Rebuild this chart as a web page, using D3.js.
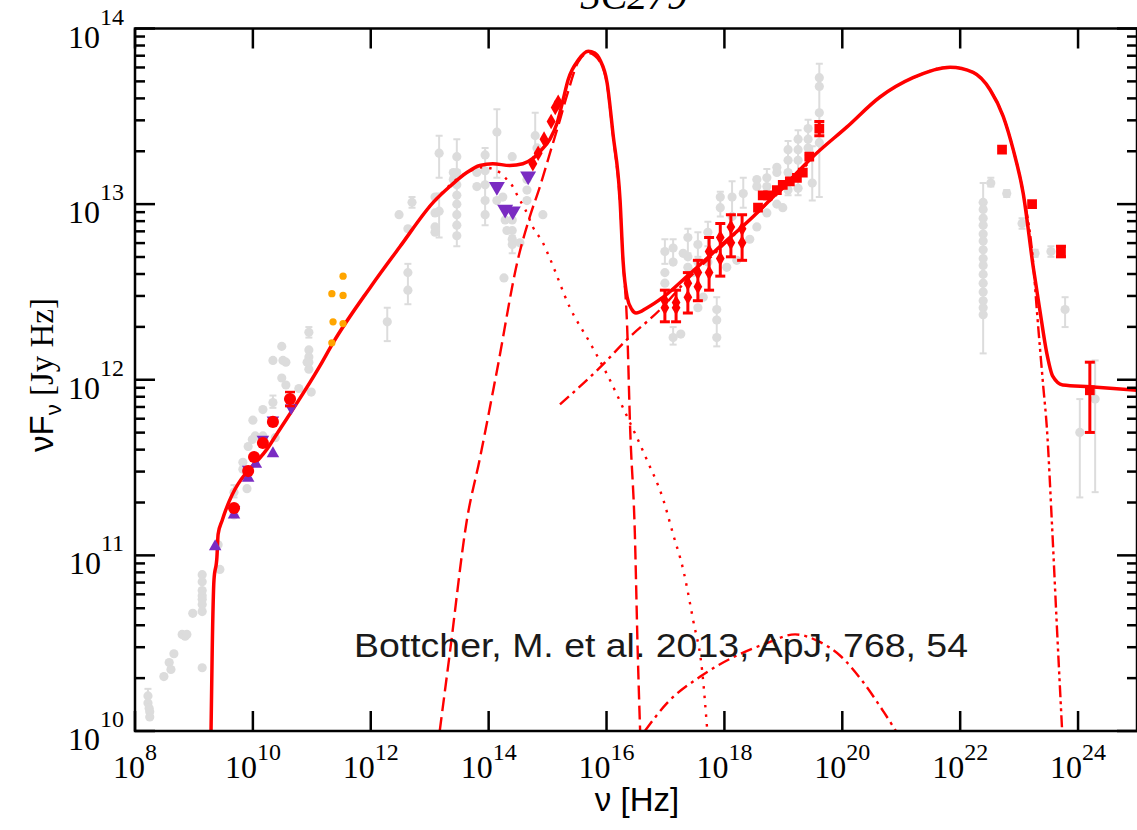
<!DOCTYPE html>
<html>
<head>
<meta charset="utf-8">
<script src="https://cdn.jsdelivr.net/npm/d3@7"></script>
<style>
  body { margin: 0; background: #fff; }
  svg { display: block; }
</style>
</head>
<body>
<script>
// every value is log10(nu / Hz) and log10(nuFnu / Jy Hz)
const xTickExps = [8, 10, 12, 14, 16, 18, 20, 22, 24];
const yTickExps = [10, 11, 12, 13, 14];

// model components
const modelTotal = [[9.29,10.00],[9.31,10.46],[9.34,10.86],[9.39,10.99],[9.41,11.12],[9.48,11.20],
  [10.29,11.63],[11.14,12.08],[11.36,12.21],[12.00,12.53],[12.50,12.76],[13.06,13.01],[13.34,13.10],
  [13.63,13.18],[13.85,13.22],[14.07,13.23],[14.36,13.22],[14.58,13.23],[14.75,13.26],[14.87,13.30],
  [15.04,13.37],[15.16,13.46],[15.26,13.59],[15.35,13.71],[15.52,13.82],[15.69,13.87],[15.80,13.86],
  [15.89,13.82],[16.01,13.69],[16.11,13.40],[16.23,13.02],[16.28,12.68],[16.35,12.47],[16.43,12.40],
  [16.50,12.38],[16.69,12.41],[16.96,12.47],[17.37,12.59],[17.93,12.76],[18.49,12.93],[19.06,13.12],
  [19.50,13.27],[20.08,13.44],[20.64,13.61],[21.20,13.72],[21.83,13.78],[22.22,13.75],[22.51,13.65],
  [22.73,13.50],[22.90,13.31],[23.07,13.06],[23.24,12.64],[23.35,12.40],[23.47,12.15],[23.57,12.02],
  [23.74,11.97],[24.20,11.96],[25.00,11.94]];
const modelSync = [[12.50,12.76],[13.06,13.01],[13.63,13.18],[13.90,13.21],[14.19,13.18],[14.31,13.14],
  [14.41,13.10],[14.50,13.04],[14.62,12.97],[14.75,12.87],[14.92,12.78],[15.04,12.69],[15.38,12.41],
  [15.72,12.21],[16.01,12.03],[16.35,11.79],[16.69,11.54],[16.96,11.32],[17.13,11.12],[17.30,10.92],
  [17.47,10.63],[17.62,10.35],[17.71,10.00]];
const modelDisk = [[13.17,10.00],[13.34,10.44],[13.63,11.20],[13.85,11.55],[14.14,12.05],[14.50,12.69],
  [14.70,12.93],[14.87,13.10],[15.04,13.29],[15.21,13.48],[15.33,13.62],[15.52,13.81],[15.69,13.86],
  [15.89,13.81],[16.01,13.68],[16.11,13.39],[16.23,13.00],[16.28,12.68],[16.35,12.30],[16.40,11.73],
  [16.48,11.13],[16.53,10.44],[16.57,10.00]];
const modelSSC = [[15.21,11.86],[15.89,12.07],[16.35,12.23],[16.91,12.40],[17.37,12.57],[17.93,12.75],
  [18.49,12.93],[19.06,13.11],[19.50,13.26]];
const modelHump = [[16.65,10.00],[17.03,10.16],[17.59,10.31],[18.15,10.42],[18.72,10.50],[19.20,10.55],
  [19.60,10.51],[19.96,10.43],[20.35,10.28],[20.70,10.11],[20.91,10.00]];
const modelEC = [[21.20,13.72],[21.83,13.78],[22.22,13.75],[22.51,13.65],[22.73,13.50],[22.90,13.31],
  [23.07,13.06],[23.24,12.66],[23.30,12.40],[23.41,11.96],[23.47,11.73],[23.56,11.16],[23.64,10.60],
  [23.73,10.00]];

// archival data (grey), [nu, flux, errLo, errHi]
const archival = [
  [8.22,10.20,10.16,10.24],[8.22,10.16],[8.24,10.13],[8.25,10.11],[8.25,10.08],
  [8.49,10.31],[8.58,10.39],[8.61,10.35],[8.66,10.44],[8.80,10.55],[8.85,10.54],[8.88,10.55],[8.98,10.67],
  [9.14,10.89],[9.14,10.85],[9.14,10.80],[9.14,10.77],[9.14,10.75],[9.14,10.72],[9.14,10.68],[9.14,10.36],
  [9.41,11.06],[9.44,10.92],[9.68,11.36,11.33,11.40],[9.68,11.23],
  [9.83,11.49],[9.90,11.38],[9.83,11.53],[9.92,11.62],[9.99,11.66],[10.04,11.68],[10.00,11.77],
  [10.17,11.83],[10.17,11.68],[10.34,11.87,11.84,11.91],[10.38,11.67],[10.34,12.11],[10.49,12.19],
  [10.51,12.11],[10.56,12.10],[10.49,12.01],[10.56,11.97],
  [10.95,12.27,12.24,12.30],[10.95,12.17],[10.95,12.13],[10.95,12.10],[10.95,12.06],[10.78,11.95],
  [10.99,11.93],[10.92,12.10],
  [12.28,12.33,12.22,12.41],[12.48,12.94],[12.63,12.86],[12.63,12.61],[12.63,12.51,12.43,12.66],
  [12.70,13.01,12.98,13.04],
  [13.09,13.04],[13.09,12.95],[13.09,12.87],[13.09,12.84],
  [13.16,13.29,13.15,13.39],[13.16,12.96,12.81,13.06],[13.40,13.18],[13.40,13.14],
  [13.46,13.27,12.76,13.37],[13.46,13.18],[13.46,13.11],[13.46,13.05],[13.46,13.00],[13.46,12.94],
  [13.46,12.88],[13.46,12.82],[13.80,13.18],[13.80,13.10],
  [13.94,13.28,12.88,13.32],[13.94,13.19],[13.94,13.11],[13.94,13.02],[13.94,12.94],
  [14.14,13.41,13.15,13.54],[14.14,13.02],[14.24,13.04],[14.28,12.91],[14.31,12.85],[14.40,13.27],
  [14.40,12.91],[14.40,12.85],[14.40,12.80],[14.40,12.77,12.72,12.82],[14.53,12.78],[14.65,13.14],
  [14.65,13.08],[14.65,13.02],[14.79,13.39,13.27,13.52],[14.82,13.32],[14.92,12.94],[14.26,12.58],
  [16.99,12.73,12.66,12.80],[16.99,12.61],[16.99,12.55],[17.13,12.75,12.68,12.80],[17.13,12.67],
  [17.13,12.24,12.20,12.30],[17.26,12.26],
  [17.30,12.72],[17.38,12.81,12.72,12.86],[17.38,12.70],[17.38,12.64],[17.47,12.61],
  [17.55,12.77,12.70,12.84],[17.55,12.67],[17.55,12.41],[17.64,12.47],[17.72,12.84,12.76,12.90],[17.72,12.67],
  [17.87,12.40],[17.87,12.34],[17.87,12.24,12.19,12.47],
  [17.93,13.04,12.93,13.07],[17.93,12.98],[18.04,12.64],[18.13,13.04,12.93,13.13],[18.13,12.93],
  [18.21,12.68],[18.32,13.06,12.98,13.15],[18.43,12.80],[18.55,13.14],[18.55,13.10],[18.55,12.87],
  [18.72,13.15,13.05,13.20],[18.72,13.10],[18.72,12.95],[18.89,13.21],[18.89,13.18],[18.89,13.00],[18.99,12.98],
  [19.08,13.31,13.05,13.36],[19.08,13.25],[19.08,13.18],[19.08,13.08],
  [19.25,13.37,13.05,13.42],[19.25,13.31],[19.25,13.25],[19.25,13.09],
  [19.42,13.43,13.28,13.48],[19.42,13.37],[19.42,13.32],[19.49,13.12,13.02,13.33],
  [19.61,13.72,13.04,13.80],[19.61,13.67],[19.61,13.52],[19.61,13.35],
  [22.39,13.01,12.15,13.12],[22.39,12.97],[22.39,12.92],[22.39,12.88],[22.39,12.83],[22.39,12.79],
  [22.39,12.74],[22.39,12.69],[22.39,12.65],[22.39,12.60],[22.39,12.55],[22.39,12.50],[22.39,12.45],
  [22.39,12.41],[22.39,12.37],
  [22.52,13.12,13.10,13.15],[22.79,13.06,13.04,13.08],[23.05,12.89,12.86,12.92],[23.27,12.72,12.70,12.74],
  [23.54,12.73,12.70,12.76],[23.78,12.40,12.30,12.47],[24.03,11.70,11.33,11.89],[24.29,11.89,11.36,12.11]
];

// campaign data
const radioRed = [[9.68,11.27],[9.92,11.48],[10.02,11.56],[10.17,11.64],[10.34,11.76],[10.63,11.89,11.85,11.93]];
const radioUp = [[9.36,11.05],[9.68,11.23],[9.92,11.44],[10.05,11.52],[10.34,11.58]];
const radioDown = [[9.68,11.26],[9.92,11.49],[10.17,11.66],[10.34,11.77],[10.65,11.84]];
const opticalDown = [[14.14,13.10],[14.28,12.97],[14.41,12.96],[14.67,13.16]];
const submm = [[11.53,12.59],[11.34,12.49],[11.53,12.48],[11.36,12.33],[11.53,12.32],[11.34,12.21]];
const opticalRed = [[14.75,13.23],[14.84,13.29],[14.94,13.37],[15.06,13.47],[15.13,13.55],[15.18,13.58]];
const xrayA = [[16.99,12.45,12.33,12.51],[17.18,12.41,12.33,12.51],[17.38,12.47,12.38,12.61],
  [17.55,12.53,12.45,12.68],[17.74,12.73,12.51,12.81],[17.93,12.81,12.59,12.89],
  [18.11,12.87,12.70,12.94],[18.30,12.86,12.68,12.94]];
const xrayB = [[16.99,12.41],[17.18,12.44],[17.38,12.55],[17.55,12.61],[17.74,12.61],[17.93,12.69],
  [18.11,12.78],[18.30,12.78]];
const xraySquares = [[18.57,12.98],[18.65,13.05],[18.74,13.05],[18.89,13.08],[18.99,13.11],[19.11,13.13],
  [19.23,13.15],[19.33,13.18],[19.44,13.27],[19.61,13.43,13.39,13.47]];
const gammaSquares = [[22.71,13.31],[23.22,13.00],[23.71,12.73,12.70,12.76],[24.20,11.94,11.70,12.10]];

const W = 1137, H = 830;
const P = v => Math.pow(10, v);
const x = d3.scaleLog().domain([1e8, 1e25]).range([135, 1137]);
const y = d3.scaleLog().domain([1e10, 1e14]).range([731, 28.5]);
const X0 = x.range()[0], X1 = x.range()[1], Y0 = y.range()[1], Y1 = y.range()[0];

const RED = "#ff0000", GREY = "#dcdcdc", PURPLE = "#7a2bc2", ORANGE = "#ffa500";

const svg = d3.select("body").append("svg").attr("width", W).attr("height", H);

svg.append("clipPath").attr("id", "plot")
  .append("rect").attr("x", X0).attr("y", Y0).attr("width", X1 - X0).attr("height", Y1 - Y0);

const g = svg.append("g").attr("clip-path", "url(#plot)");

function errorBars(data, color, cap, width) {
  g.append("g").selectAll("g").data(data.filter(d => d.length > 2)).join("g")
    .each(function(d) {
      const s = d3.select(this), cx = x(P(d[0]));
      const ylo = y(P(d[2])), yhi = y(P(d[3]));
      s.append("line").attr("x1", cx).attr("x2", cx).attr("y1", ylo).attr("y2", yhi);
      s.append("line").attr("x1", cx - cap).attr("x2", cx + cap).attr("y1", ylo).attr("y2", ylo);
      s.append("line").attr("x1", cx - cap).attr("x2", cx + cap).attr("y1", yhi).attr("y2", yhi);
    })
    .attr("stroke", color).attr("stroke-width", width);
}

function markers(data, type, size, color, rot) {
  g.append("g").selectAll("path").data(data).join("path")
    .attr("d", d3.symbol().type(type).size(size))
    .attr("transform", d => `translate(${x(P(d[0]))},${y(P(d[1]))})` + (rot ? ` rotate(${rot})` : ""))
    .attr("fill", color);
}

// archival grey points
errorBars(archival, GREY, 3.5, 2);
markers(archival, d3.symbolCircle, 66, GREY);

// model curves
const line = d3.line().x(d => x(P(d[0]))).y(d => y(P(d[1]))).curve(d3.curveMonotoneX);
const curves = [
  [modelSync, "2.5,7", 2.4],
  [modelDisk, "14,6", 2.4],
  [modelSSC, "12,5,3,5", 2.4],
  [modelHump, "12,5,3,5", 2.4],
  [modelEC, "12,4,3,4,3,4", 2.4],
  [modelTotal, null, 3.5]
];
curves.forEach(([data, dash, w]) => {
  g.append("path").datum(data).attr("d", line)
    .attr("fill", "none").attr("stroke", RED).attr("stroke-width", w)
    .attr("stroke-dasharray", dash);
});

// campaign points
markers(submm, d3.symbolCircle, 42, ORANGE);
markers(radioUp, d3.symbolTriangle, 68, PURPLE);
markers(radioDown, d3.symbolTriangle, 68, PURPLE, 180);
markers(opticalDown, d3.symbolTriangle, 110, PURPLE, 180);
errorBars(radioRed, RED, 5, 2.5);
markers(radioRed, d3.symbolCircle, 115, RED);
markers(opticalRed, d3.symbolDiamond, 70, RED);
errorBars(xrayA, RED, 5, 3);
markers(xrayA, d3.symbolDiamond, 66, RED);
markers(xrayB, d3.symbolDiamond, 66, RED);
errorBars(xraySquares, RED, 5, 3);
markers(xraySquares, d3.symbolSquare, 95, RED);
errorBars(gammaSquares, RED, 5, 3);
markers(gammaSquares, d3.symbolSquare, 95, RED);

// frame and ticks
const axes = svg.append("g").attr("stroke", "#000").attr("stroke-width", 2.5);
axes.append("rect").attr("x", X0).attr("y", Y0).attr("width", X1 - X0).attr("height", Y1 - Y0)
  .attr("fill", "none");
xTickExps.forEach(e => {
  const px = x(P(e));
  axes.append("line").attr("x1", px).attr("x2", px).attr("y1", Y1).attr("y2", Y1 - 20);
  axes.append("line").attr("x1", px).attr("x2", px).attr("y1", Y0).attr("y2", Y0 + 20);
});
y.ticks().forEach(v => {
  const py = y(v);
  const major = Math.abs(Math.log10(v) - Math.round(Math.log10(v))) < 1e-9;
  const len = major ? 20 : 10;
  axes.append("line").attr("x1", X0).attr("x2", X0 + len).attr("y1", py).attr("y2", py);
  axes.append("line").attr("x1", X1).attr("x2", X1 - len).attr("y1", py).attr("y2", py);
});

// tick labels
const serif = "'Liberation Serif', 'Times New Roman', Times, serif";
const sans = "'Liberation Sans', Helvetica, Arial, sans-serif";
xTickExps.forEach(e => {
  const t = svg.append("text").attr("x", x(P(e))).attr("y", Y1 + 47)
    .attr("text-anchor", "middle").attr("font-family", serif).attr("fill", "#000");
  t.append("tspan").attr("font-size", 32).text("10");
  t.append("tspan").attr("font-size", 24).attr("dy", -18).text(e);
});
yTickExps.forEach(e => {
  const t = svg.append("text").attr("x", 124).attr("y", y(P(e)) + 19)
    .attr("text-anchor", "end").attr("font-family", serif).attr("fill", "#000");
  t.append("tspan").attr("font-size", 32).text("10");
  t.append("tspan").attr("font-size", 24).attr("dy", -23).text(e);
});

// axis titles
svg.append("text").attr("x", 637).attr("y", 811).attr("text-anchor", "middle")
  .attr("font-family", sans).attr("font-size", 33).text("ν [Hz]");

const yl = svg.append("text").attr("transform", "translate(53,375) rotate(-90)")
  .attr("text-anchor", "middle").attr("font-size", 33);
yl.append("tspan").attr("font-family", sans).text("νF");
yl.append("tspan").attr("font-family", sans).attr("font-size", 22).attr("dy", 8).text("ν");
yl.append("tspan").attr("font-family", serif).attr("dy", -8).text(" [Jy Hz]");

// title, mostly cut off at the top edge as in the source figure
svg.append("text").attr("x", 634).attr("y", 9).attr("text-anchor", "middle")
  .attr("font-family", serif).attr("font-style", "italic").attr("font-size", 40).text("3C279");

// reference note
svg.append("text").attr("x", 354).attr("y", 657)
  .attr("font-family", sans).attr("font-size", 33).attr("fill", "#1a1a1a")
  .attr("textLength", 614).attr("lengthAdjust", "spacingAndGlyphs")
  .text("Bottcher, M. et al. 2013, ApJ, 768, 54");
</script>
</body>
</html>
